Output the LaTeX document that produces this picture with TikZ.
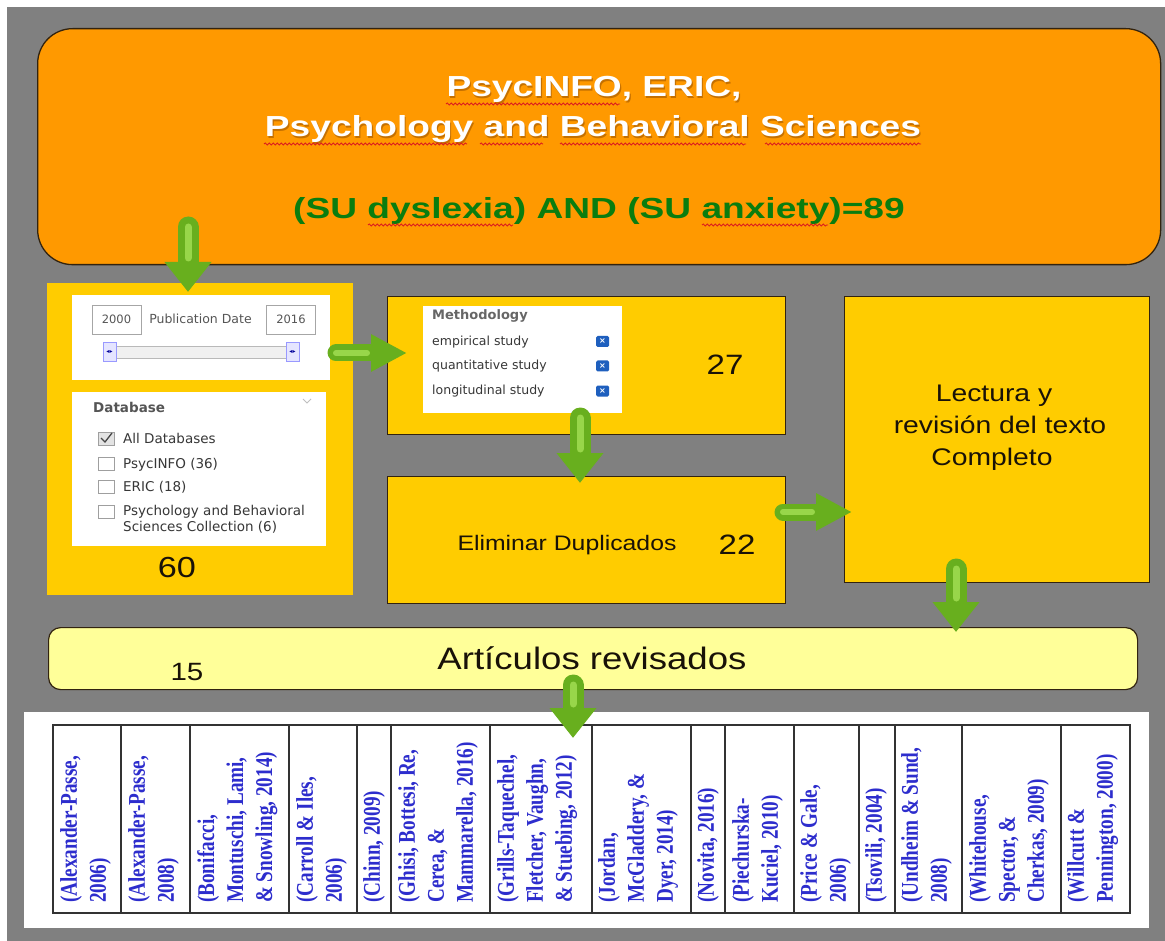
\documentclass[tikz,border=0pt]{standalone}
\usepackage{fontspec}
\usetikzlibrary{arrows.meta,decorations.pathmorphing}
\setmainfont{Liberation Sans}
\newfontfamily\ttlfont[FakeStretch=1.28]{Liberation Sans}
\newfontfamily\bdyfont[FakeStretch=1.18]{Liberation Sans}
\newfontfamily\uifont{DejaVu Sans}
\newfontfamily\tblfont[FakeStretch=0.8]{Liberation Serif}
\definecolor{bgGray}{RGB}{128,128,128}
\definecolor{orangeBox}{RGB}{255,153,0}
\definecolor{yellowBox}{RGB}{255,204,0}
\definecolor{paleBox}{RGB}{255,255,153}
\definecolor{boxLine}{RGB}{50,35,15}
\definecolor{ttlGreen}{RGB}{10,125,15}
\definecolor{ttlShadow}{RGB}{150,80,0}
\definecolor{arrowDark}{RGB}{104,175,30}
\definecolor{arrowLight}{RGB}{152,214,74}
\definecolor{refBlue}{RGB}{45,45,205}
\definecolor{uiGray}{RGB}{85,85,85}
\definecolor{uiText}{RGB}{55,55,55}
\definecolor{iconBlue}{RGB}{30,95,190}
\definecolor{txtDark}{RGB}{25,18,8}
\definecolor{squigRed}{RGB}{220,30,30}
\tikzset{
  stepbox/.style={draw=boxLine, line width=1.2pt, fill=yellowBox, inner sep=0pt, anchor=north west},
  whitepanel/.style={fill=white, inner sep=0pt, anchor=north west},
  ttl/.style={anchor=base, inner sep=0pt, text=white, font=\ttlfont\bfseries\fontsize{29}{34}\selectfont},
  ttlsh/.style={anchor=base, inner sep=0pt, text=ttlShadow, opacity=0.55, font=\ttlfont\bfseries\fontsize{29}{34}\selectfont},
  ttlg/.style={anchor=base, inner sep=0pt, text=ttlGreen, font=\ttlfont\bfseries\fontsize{29}{34}\selectfont},
  bdy/.style={anchor=base, inner sep=0pt, text=txtDark, font=\bdyfont\fontsize{#1}{#1}\selectfont},
  ui/.style={anchor=base west, inner sep=0pt, text=uiText, font=\uifont\fontsize{#1}{#1}\selectfont},
  uib/.style={anchor=base west, inner sep=0pt, text=uiGray, font=\uifont\bfseries\fontsize{#1}{#1}\selectfont},
  datebox/.style={draw=gray!70, line width=0.8pt, fill=white, minimum width=49pt, minimum height=29pt, inner sep=0pt, text=uiGray, font=\uifont\fontsize{11.5}{12}\selectfont},
  handle/.style={draw=blue!40, fill=blue!10, line width=0.7pt, minimum width=13pt, minimum height=19pt, inner sep=0pt, text=blue!60!black, font=\uifont\fontsize{6}{6}\selectfont},
  cbox/.style={draw=gray!75, fill=white, line width=0.8pt, minimum width=16pt, minimum height=13pt, inner sep=0pt},
  icon/.style={fill=iconBlue, rounded corners=1.5pt, minimum width=13pt, minimum height=11pt, inner sep=0pt, text=white, font=\uifont\bfseries\fontsize{8}{8}\selectfont},
  reftxt/.style={rotate=90, anchor=north west, align=left, inner sep=0pt, text=refBlue, font=\tblfont\bfseries\fontsize{24}{29}\selectfont},
  squig/.style={draw=squigRed, line width=0.8pt, decorate, decoration={snake, segment length=4pt, amplitude=1.1pt}},
  garrowv/.style={line width=21pt, draw=arrowDark, line cap=round, -{Triangle[width=45pt,length=30pt]}},
  garrowh/.style={line width=17pt, draw=arrowDark, line cap=round, -{Triangle[width=35pt,length=36pt]}},
  ghiv/.style={line width=7pt, draw=arrowLight, line cap=round, shorten >=34pt},
  ghih/.style={line width=6pt, draw=arrowLight, line cap=round, shorten >=40pt},
}
\begin{document}
\begin{tikzpicture}[x=1pt, y=-1pt]
\useasboundingbox (0,0) rectangle (1165,941);
\fill[white] (0,0) rectangle (1165,941);
\fill[bgGray] (7,7) rectangle (1165,941);

% ---------- top box ----------
\node[draw=boxLine, line width=1.3pt, fill=orangeBox, rounded corners=35pt, minimum width=1123pt, minimum height=236pt, inner sep=0pt, anchor=north west] (top) at (37,28) {};
\node[ttlsh] (t1s) at (595.2,98.2) {PsycINFO, ERIC,};
\node[ttlsh] (t2s) at (594.2,138.2) {Psychology and Behavioral Sciences};
\node[ttl] (t1) at (594,97) {PsycINFO, ERIC,};
\node[ttl] (t2) at (593,137) {Psychology and Behavioral Sciences};
\node[ttlg] (t3) at (599,219) {(SU dyslexia) AND (SU anxiety)=89};
\draw[squig] (446,104) -- (620,104);
\draw[squig] (264,144) -- (467,144);
\draw[squig] (480,144) -- (543,144);
\draw[squig] (560,144) -- (746,144);
\draw[squig] (765,144) -- (921,144);
\draw[squig] (368,225) -- (513,225);
\draw[squig] (702,225) -- (828,225);

% ---------- left panel ----------
\node[fill=yellowBox, inner sep=0pt, anchor=north west, minimum width=306pt, minimum height=312pt] (lp) at (47,283) {};
\node[whitepanel, minimum width=258pt, minimum height=85pt] (w1) at (72,295) {};
\node[datebox] (d1) at (116.5,319.5) {2000};
\node[datebox] (d2) at (291,319.5) {2016};
\node[anchor=base, inner sep=0pt, text=uiGray, font=\uifont\fontsize{12.5}{13}\selectfont] (pd) at (200.5,324) {Publication Date};
\node[draw=gray!55, fill=gray!12, line width=0.7pt, minimum width=195pt, minimum height=12pt, inner sep=0pt, anchor=north west] (bar) at (103,346) {};
\node[handle] (h1) at (109.5,352) {◂▸};
\node[handle] (h2) at (292.5,352) {◂▸};

\node[whitepanel, minimum width=254pt, minimum height=154pt] (w2) at (72,392) {};
\node[uib=13.5] (dbh) at (93,412) {Database};
\draw[gray!50, line width=0.8pt] (303,399) -- (307,403) -- (311,399);
\node[cbox, fill=gray!22] (cb1) at (106,438.5) {};
\draw[gray!55!black, line width=1.3pt] (101,438) -- (105,442) -- (112,433);
\node[cbox] (cb2) at (106,463.5) {};
\node[cbox] (cb3) at (106,486.5) {};
\node[cbox] (cb4) at (106,511.5) {};
\node[ui=13.5] (db1) at (123,443) {All Databases};
\node[ui=13.5] (db2) at (123,468) {PsycINFO (36)};
\node[ui=13.5] (db3) at (123,491) {ERIC (18)};
\node[ui=13.5] (db4) at (123,515) {Psychology and Behavioral};
\node[ui=13.5] (db5) at (123,531) {Sciences Collection (6)};
\node[bdy=29] (n60) at (177,577) {60};

% ---------- methodology ----------
\node[stepbox, minimum width=398pt, minimum height=138pt] (meth) at (387,296) {};
\node[whitepanel, minimum width=199pt, minimum height=107pt] (mw) at (423,306) {};
\node[uib=13, text=uiGray!90] (mh) at (432,320) {Methodology};
\node[ui=12.5] (m1) at (432,346) {empirical study};
\node[ui=12.5] (m2) at (432,370) {quantitative study};
\node[ui=12.5] (m3) at (432,395) {longitudinal study};
\node[icon] (ic1) at (602.5,341.5) {×};
\node[icon] (ic2) at (602.5,366) {×};
\node[icon] (ic3) at (602.5,391) {×};
\node[bdy=28] (n27) at (725,374) {27};

% ---------- eliminar ----------
\node[stepbox, minimum width=398pt, minimum height=127pt] (elim) at (387,476) {};
\node[bdy=21] (elimT) at (567,550) {Eliminar Duplicados};
\node[bdy=28] (n22) at (737,554) {22};

% ---------- lectura ----------
\node[stepbox, minimum width=305pt, minimum height=286pt] (lect) at (844,296) {};
\node[bdy=24] (le1) at (994,401) {Lectura y};
\node[bdy=24] (le2) at (1000,433) {revisión del texto};
\node[bdy=24] (le3) at (992,465) {Completo};

% ---------- articulos ----------
\node[draw=boxLine, line width=1.2pt, fill=paleBox, rounded corners=12pt, minimum width=1089pt, minimum height=62pt, inner sep=0pt, anchor=north west] (arti) at (48,627) {};
\node[bdy=31] (artT) at (592,669) {Artículos revisados};
\node[bdy=25] (n15) at (187,680) {15};

% ---------- references table ----------
\node[whitepanel, minimum width=1125pt, minimum height=216pt] (refs) at (24,712) {};
\draw[black!80, line width=1.5pt] (53,725) rectangle (1130,913);
\foreach \xx in {121,190,289,357,391,490,592,691,725,794,859,895,962,1061}
  \draw[black!80, line width=1.5pt] (\xx,725) -- (\xx,913);
\node[reftxt] (r1) at (60,903) {(Alexander-Passe,\\2006)};
\node[reftxt] (r2) at (128,903) {(Alexander-Passe,\\2008)};
\node[reftxt] (r3) at (197,903) {(Bonifacci,\\Montuschi, Lami,\\\& Snowling, 2014)};
\node[reftxt] (r4) at (296,903) {(Carroll \& Iles,\\2006)};
\node[reftxt] (r5) at (363,903) {(Chinn, 2009)};
\node[reftxt] (r6) at (398,903) {(Ghisi, Bottesi, Re,\\Cerea, \&\\Mammarella, 2016)};
\node[reftxt] (r7) at (497,903) {(Grills-Taquechel,\\Fletcher, Vaughn,\\\& Stuebing, 2012)};
\node[reftxt] (r8) at (598,903) {(Jordan,\\McGladdery, \&\\Dyer, 2014)};
\node[reftxt] (r9) at (697,903) {(Novita, 2016)};
\node[reftxt] (r10) at (732,903) {(Piechurska-\\Kuciel, 2010)};
\node[reftxt] (r11) at (800,903) {(Price \& Gale,\\2006)};
\node[reftxt] (r12) at (865,903) {(Tsovili, 2004)};
\node[reftxt] (r13) at (901,903) {(Undheim \& Sund,\\2008)};
\node[reftxt] (r14) at (969,903) {(Whitehouse,\\Spector, \&\\Cherkas, 2009)};
\node[reftxt] (r15) at (1067,903) {(Willcutt \&\\Pennington, 2000)};

% ---------- arrows ----------
\coordinate (a1s) at (188,227); \coordinate (a1e) at (188,292);
\coordinate (a2s) at (336,353); \coordinate (a2e) at (407,353);
\coordinate (a3s) at (580,418); \coordinate (a3e) at (580,483);
\coordinate (a4s) at (783,512); \coordinate (a4e) at (852,512);
\coordinate (a5s) at (956,569); \coordinate (a5e) at (956,632);
\coordinate (a6s) at (573,685); \coordinate (a6e) at (573,738);
\draw[garrowv] (a1s) -- (a1e); \draw[ghiv] (a1s) -- (a1e);
\draw[garrowh] (a2s) -- (a2e); \draw[ghih] (a2s) -- (a2e);
\draw[garrowv] (a3s) -- (a3e); \draw[ghiv] (a3s) -- (a3e);
\draw[garrowh] (a4s) -- (a4e); \draw[ghih] (a4s) -- (a4e);
\draw[garrowv] (a5s) -- (a5e); \draw[ghiv] (a5s) -- (a5e);
\draw[garrowv] (a6s) -- (a6e); \draw[ghiv] (a6s) -- (a6e);
\end{tikzpicture}
\end{document}
